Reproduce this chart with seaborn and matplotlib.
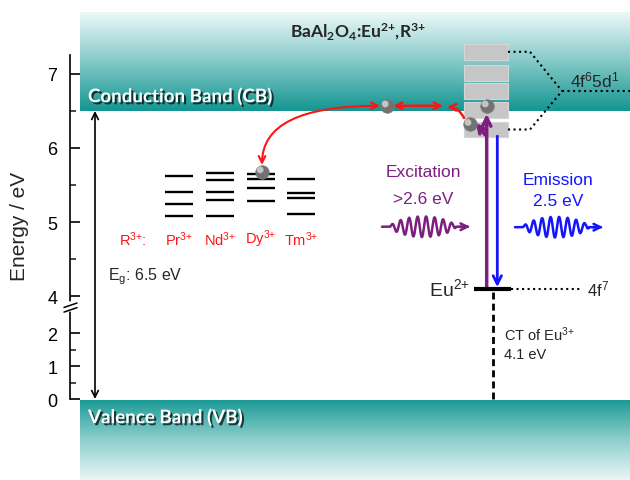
import numpy as np
import matplotlib
matplotlib.use("Agg")
import matplotlib.pyplot as plt
import matplotlib.patheffects as pe
from matplotlib.colors import LinearSegmentedColormap
from matplotlib.patches import Rectangle
import seaborn as sns

# energies (eV)
cb_edge = 6.5
vb_edge = 0.0
band_gap = 6.5
eu_4f7 = 4.1
eu_5d = [7.30, 7.02, 6.77, 6.52, 6.25]
box_h = 0.216

ion_labels = ["Pr", "Nd", "Dy", "Tm"]
pr_levels = [5.62, 5.41, 5.25, 5.085]
nd_levels = [5.66, 5.57, 5.40, 5.30, 5.085]
dy_levels = [5.65, 5.585, 5.455, 5.28]
tm_levels = [5.585, 5.39, 5.33, 5.105]

major_ticks = [0, 1, 2, 4, 5, 6, 7]
minor_ticks = [0.5, 1.5, 4.5, 5.5, 6.5]

# electrons: (x position, energy)
elec_x = [386.7, 486.7, 469.5, 261.7]
elec_e = [6.57, 6.57, 6.32, 5.68]

purple = "#7d1f7f"
blue = "#1414ff"
red = "#ff1414"

SUP3 = r"$\mathregular{^{3{+}}}$"
SUP2 = r"$\mathregular{^{2{+}}}$"


# broken energy axis: 0-2 eV compressed, 2-4 eV squeezed, >4 eV expanded
def fwd(e):
    e = np.asarray(e, dtype=float)
    return np.where(e <= 2, 33 * e, np.where(e < 4, 66 + 18.5 * (e - 2), 103 + 74 * (e - 4)))


def inv(t):
    t = np.asarray(t, dtype=float)
    return np.where(t <= 66, t / 33, np.where(t < 103, 2 + (t - 66) / 18.5, 4 + (t - 103) / 74))


sns.set_style("white")
plt.rcParams["font.family"] = ["Liberation Sans", "DejaVu Sans"]

fig = plt.figure(figsize=(6.3, 4.81), dpi=100)
ax = fig.add_axes([0, 0, 1, 1])
ax.set_yscale("function", functions=(fwd, inv))

# bands with gradient
cb_cmap = LinearSegmentedColormap.from_list("cb", ["#159692", "#85cac8", "#eef9f9"])
vb_cmap = LinearSegmentedColormap.from_list("vb", ["#189994", "#8ccecc", "#e8f6f6"])
grad = np.linspace(0, 1, 256).reshape(-1, 1)
ax.imshow(grad, extent=[80, 630, cb_edge, 7.84], origin="lower", aspect="auto",
          cmap=cb_cmap, zorder=0)
ax.imshow(grad, extent=[80, 630, vb_edge, -2.46], origin="lower", aspect="auto",
          cmap=vb_cmap, zorder=0)

shadow = [pe.withSimplePatchShadow(offset=(1.5, -1.5), shadow_rgbFace="black", alpha=0.7)]
ax.text(88, 6.70, "Conduction Band (CB)", family="Lato", weight="bold", fontsize=13.5,
        color="white", va="center", path_effects=shadow, zorder=5)
ax.text(88, -0.55, "Valence Band (VB)", family="Lato", weight="bold", fontsize=13.5,
        color="white", va="center", path_effects=shadow, zorder=5)
ax.text(358, 7.57, r"BaAl$\mathregular{_2}$O$\mathregular{_4}$:Eu" + SUP2 + ",R" + SUP3,
        family="Lato", weight="bold", fontsize=12.5, ha="center", va="center", zorder=5)

# R3+ ion levels
ion_x = [179, 220, 261, 301]
for cx, levels in zip(ion_x, [pr_levels, nd_levels, dy_levels, tm_levels]):
    ax.hlines(levels, cx - 14, cx + 14, color="black", lw=1.7, zorder=3)
ax.text(133, 4.78, "R" + SUP3 + ":", color=red, fontsize=10.5, ha="center", va="center")
for cx, name in zip(ion_x, ion_labels):
    ax.text(cx, 4.78, name + SUP3, color=red, fontsize=10.5, ha="center", va="center")

# band gap arrow
ax.annotate("", xy=(95, cb_edge), xytext=(95, vb_edge),
            arrowprops=dict(arrowstyle="<->", lw=1.2, color="black", shrinkA=0, shrinkB=0,
                            mutation_scale=12))
ax.text(108, 4.27, r"E$\mathregular{_g}$: " + f"{band_gap} eV", fontsize=11.5, va="center")

# Eu2+ 5d levels
for c in eu_5d:
    ax.add_patch(Rectangle((464, c - box_h / 2), 44, box_h, facecolor="#c6c6c6",
                           edgecolor="#d6d6d6", lw=0.8, zorder=2))
ax.plot([508, 530, 562], [eu_5d[0], eu_5d[0], eu_5d[2]], ls=":", lw=1.5, color="black")
ax.plot([508, 530, 562], [eu_5d[-1], eu_5d[-1], eu_5d[2]], ls=":", lw=1.5, color="black")
ax.plot([562, 630], [eu_5d[2], eu_5d[2]], ls=":", lw=1.5, color="black")
ax.text(570, 6.93, r"4f$\mathregular{^6}$5d$\mathregular{^1}$", fontsize=12.5, va="center")

# Eu2+ ground state and charge transfer
ax.hlines(eu_4f7, 474, 511, color="black", lw=3, zorder=4)
ax.plot([511, 580], [eu_4f7, eu_4f7], ls=":", lw=1.5, color="black")
ax.text(470, eu_4f7, "Eu" + SUP2, fontsize=14, ha="right", va="center")
ax.text(587, eu_4f7, r"4f$\mathregular{^7}$", fontsize=12, va="center")
ax.plot([492.7, 492.7], [vb_edge, eu_4f7], ls=(0, (2.5, 1.5)), lw=2, color="black", zorder=3)
ax.text(504, 1.97, "CT of Eu" + SUP3, fontsize=10.5, va="center")
ax.text(504, 1.36, "4.1 eV", fontsize=10.5, va="center")

# electron transfer arrows
ax.annotate("", xy=(262, 5.77), xytext=(380, 6.57),
            arrowprops=dict(arrowstyle="<->", lw=1.5, color=red, shrinkA=0, shrinkB=0,
                            mutation_scale=12, connectionstyle="angle3,angleA=0,angleB=90"))
ax.annotate("", xy=(443, 6.57), xytext=(393, 6.57),
            arrowprops=dict(arrowstyle="<->", lw=1.8, color=red, shrinkA=0, shrinkB=0,
                            mutation_scale=12))
ax.annotate("", xy=(447, 6.555), xytext=(464, 6.405),
            arrowprops=dict(arrowstyle="->", lw=1.8, color=red, shrinkA=0, shrinkB=0,
                            mutation_scale=12, connectionstyle="arc3,rad=0.3"))

# excitation / emission
ax.annotate("", xy=(486.7, 6.46), xytext=(486.7, eu_4f7),
            arrowprops=dict(arrowstyle="->", lw=2.5, color=purple, shrinkA=0, shrinkB=0,
                            mutation_scale=15))
ax.annotate("", xy=(476, 6.34), xytext=(485, 6.18),
            arrowprops=dict(arrowstyle="->", lw=2.5, color=purple, shrinkA=0, shrinkB=0,
                            mutation_scale=13))
ax.annotate("", xy=(497.3, eu_4f7 + 0.02), xytext=(497.3, 6.16),
            arrowprops=dict(arrowstyle="->", lw=2, color=blue, shrinkA=0, shrinkB=0,
                            mutation_scale=15))

sns.scatterplot(x=elec_x, y=elec_e, ax=ax, s=95, color="#727272", edgecolor="#7a7a7a",
                linewidth=0.5, zorder=6, legend=False)
sns.scatterplot(x=[x - 1.5 for x in elec_x], y=[e + 0.025 for e in elec_e], ax=ax, s=24,
                color="#c4c4c4", edgecolor="none", zorder=7, legend=False)


def photon(x0, x1, e0, color, period=8.0):
    # decorative squiggle for a photon
    xs = np.linspace(x0 + 8, x1 - 14, 400)
    env = np.sin(np.pi * (xs - xs[0]) / (xs[-1] - xs[0])) ** 0.6
    ys = e0 + 0.14 * env * np.sin(2 * np.pi * (xs - xs[0]) / period)
    ax.plot(np.r_[x0, xs, x1 - 2], np.r_[e0, ys, e0], color=color, lw=1.8)
    ax.annotate("", xy=(x1, e0), xytext=(x1 - 10, e0),
                arrowprops=dict(arrowstyle="->", lw=1.8, color=color, shrinkA=0, shrinkB=0,
                                mutation_scale=12))


photon(382, 470, 4.936, purple, period=8.5)
photon(515, 603, 4.93, blue, period=8.5)
ax.text(423, 5.676, "Excitation", color=purple, fontsize=12.5, ha="center", va="center")
ax.text(423, 5.324, ">2.6 eV", color=purple, fontsize=12.5, ha="center", va="center")
ax.text(558, 5.58, "Emission", color=blue, fontsize=12.5, ha="center", va="center")
ax.text(558, 5.284, "2.5 eV", color=blue, fontsize=12.5, ha="center", va="center")

# energy axis
ax.set_xlim(0, 630)
ax.set_ylim(-2.4545, 8.0135)
for side in ["top", "right", "bottom"]:
    ax.spines[side].set_visible(False)
ax.spines["left"].set_position(("data", 70))
ax.spines["left"].set_bounds(0, 7.25)
ax.spines["left"].set_linewidth(1.2)
ax.spines["left"].set_color("black")
ax.set_xticks([])
ax.set_yticks(major_ticks)
ax.set_yticks(minor_ticks, minor=True)
ax.tick_params(axis="y", which="major", direction="in", length=7, width=1.2, labelsize=13,
               pad=9, left=True, colors="black")
ax.tick_params(axis="y", which="minor", direction="in", length=4, width=1.2, left=True)
ax.plot([70, 70], [3.28, 3.56], color="white", lw=4, zorder=4, clip_on=False)
for e in [3.25, 3.50]:
    ax.plot([64, 77], [e - 0.12, e + 0.12], color="black", lw=1.1, zorder=5, clip_on=False)
ax.text(20, 4.95, "Energy / eV", fontsize=15, rotation=90, ha="center", va="center")

fig.savefig("out.png", dpi=100)
